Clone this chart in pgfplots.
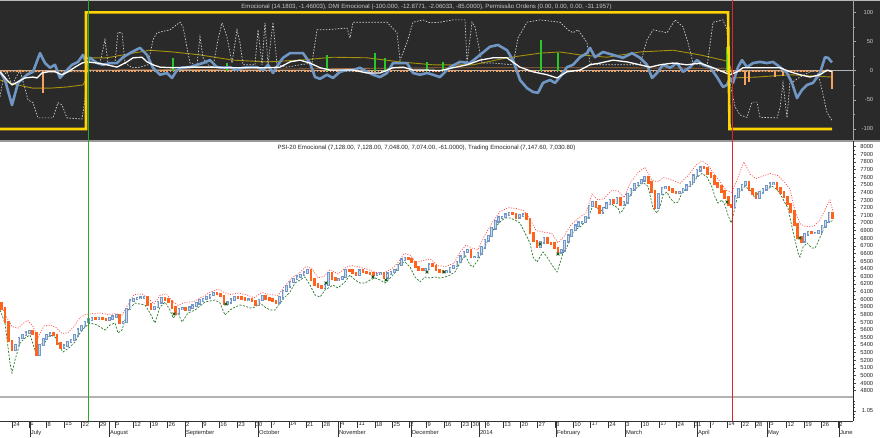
\documentclass[border=0pt]{standalone}
\usepackage{fontspec}
\setmainfont{Liberation Sans}
\usepackage{pgfplots}
\usepackage{pgfplotstable}
\pgfplotsset{compat=1.18}
\pgfplotsset{/pgf/number format/assume math mode=true}
\newcommand\tf{\fontsize{6.1}{7}\selectfont}
\newcommand\tk{\fontsize{5.8}{7}\selectfont}
\definecolor{panelbg}{RGB}{42,42,42}
\definecolor{lbl}{RGB}{200,200,200}
\definecolor{emoblue}{RGB}{112,150,196}
\definecolor{olivel}{RGB}{165,145,10}
\definecolor{brownl}{RGB}{160,105,60}
\definecolor{orangedot}{RGB}{244,164,96}
\definecolor{yell}{RGB}{255,212,0}
\definecolor{dmi}{RGB}{205,205,205}
\definecolor{gbar}{RGB}{40,200,40}
\definecolor{vgreen}{RGB}{40,170,40}
\definecolor{vred}{RGB}{220,40,40}
\definecolor{downc}{RGB}{255,100,30}
\definecolor{upedge}{RGB}{115,152,200}
\definecolor{upfill}{RGB}{205,218,236}
\definecolor{upband}{RGB}{255,70,70}
\definecolor{loband}{RGB}{40,120,40}
\definecolor{xmk}{RGB}{20,90,20}
\pgfplotstableread{
i o c
0 5950 5880
1 5880 5700
2 5700 5450
3 5450 5340
4 5340 5400
5 5400 5490
6 5490 5530
7 5530 5560
8 5560 5580
9 5580 5550
10 5550 5270
11 5270 5400
12 5400 5480
13 5480 5525
14 5525 5550
15 5550 5530
16 5530 5420
17 5420 5370
18 5370 5390
19 5390 5440
20 5440 5465
21 5465 5525
22 5525 5600
23 5600 5650
24 5650 5700
25 5700 5735
26 5735 5750
27 5750 5740
28 5740 5755
29 5755 5740
30 5740 5725
31 5725 5750
32 5750 5770
33 5770 5790
34 5790 5690
35 5690 5700
36 5700 5870
37 5870 5980
38 5980 6005
39 6005 6015
40 6015 6020
41 6020 6030
42 6030 5930
43 5930 5870
44 5870 5900
45 5900 5960
46 5960 6010
47 6010 6000
48 6000 5970
49 5970 5890
50 5890 5815
51 5815 5870
52 5870 5880
53 5880 5860
54 5860 5890
55 5890 5915
56 5915 5945
57 5945 5985
58 5985 6005
59 6005 6025
60 6025 6055
61 6055 6075
62 6075 6070
63 6070 6040
64 6040 5935
65 5935 5960
66 5960 5995
67 5995 6025
68 6025 6020
69 6020 6010
70 6010 5990
71 5990 5995
72 5995 5975
73 5975 5925
74 5925 5990
75 5990 6040
76 6040 6010
77 6010 5995
78 5995 5975
79 5975 5960
80 5960 6025
81 6025 6110
82 6110 6170
83 6170 6225
84 6225 6265
85 6265 6295
86 6295 6320
87 6320 6350
88 6350 6385
89 6385 6260
90 6260 6195
91 6195 6165
92 6165 6150
93 6150 6185
94 6185 6340
95 6340 6270
96 6270 6250
97 6250 6265
98 6265 6290
99 6290 6383
100 6383 6380
101 6380 6345
102 6345 6320
103 6320 6375
104 6375 6355
105 6355 6345
106 6345 6340
107 6340 6325
108 6325 6330
109 6330 6340
110 6340 6285
111 6285 6335
112 6335 6355
113 6355 6385
114 6385 6450
115 6450 6520
116 6520 6540
117 6540 6525
118 6525 6490
119 6490 6420
120 6420 6390
121 6390 6383
122 6383 6395
123 6395 6455
124 6455 6435
125 6435 6385
126 6385 6360
127 6360 6355
128 6355 6365
129 6365 6409
130 6409 6435
131 6435 6490
132 6490 6560
133 6560 6620
134 6620 6645
135 6645 6553
136 6553 6555
137 6555 6600
138 6600 6680
139 6680 6770
140 6770 6830
141 6830 6930
142 6930 7020
143 7020 7070
144 7070 7080
145 7080 7108
146 7108 7126
147 7126 7120
148 7120 7075
149 7075 7100
150 7100 7110
151 7110 7050
152 7050 6870
153 6870 6765
154 6765 6684
155 6684 6745
156 6745 6800
157 6800 6737
158 6737 6730
159 6730 6670
160 6670 6615
161 6615 6640
162 6640 6760
163 6760 6835
164 6835 6905
165 6905 6965
166 6965 7003
167 7003 7012
168 7012 7075
169 7075 7220
170 7220 7270
171 7270 7215
172 7215 7140
173 7140 7196
174 7196 7255
175 7255 7301
176 7301 7265
177 7265 7327
178 7327 7235
179 7235 7270
180 7270 7375
181 7375 7440
182 7440 7505
183 7505 7526
184 7526 7560
185 7560 7597
186 7597 7530
187 7530 7410
188 7410 7196
189 7196 7380
190 7380 7460
191 7460 7468
192 7468 7440
193 7440 7404
194 7404 7395
195 7395 7405
196 7405 7440
197 7440 7490
198 7490 7537
199 7537 7620
200 7620 7690
201 7690 7725
202 7725 7720
203 7720 7645
204 7645 7612
205 7612 7520
206 7520 7475
207 7475 7410
208 7410 7335
209 7335 7235
210 7235 7215
211 7215 7345
212 7345 7440
213 7440 7500
214 7500 7537
215 7537 7440
216 7440 7390
217 7390 7330
218 7330 7400
219 7400 7440
220 7440 7485
221 7485 7515
222 7515 7520
223 7520 7450
224 7450 7400
225 7400 7340
226 7340 7250
227 7250 7150
228 7150 6980
229 6980 6810
230 6810 6760
231 6760 6850
232 6850 6878
233 6878 6868
234 6868 6870
235 6870 6890
236 6890 6955
237 6955 7020
238 7020 7128
239 7128 7074
}\candles
\begin{document}
\begin{tikzpicture}
\useasboundingbox (0pt,0pt) rectangle (880pt,437pt);
\fill[white] (0pt,0pt) rectangle (880pt,437pt);
\fill[panelbg] (0pt,296pt) rectangle (880pt,437pt);
\draw[gray!55, line width=1.2pt] (0pt,436.4pt) -- (880pt,436.4pt);
\draw[gray!80, line width=1.2pt] (0pt,296pt) -- (880pt,296pt);
\draw[gray!60, line width=1.4pt] (0pt,40pt) -- (853pt,40pt);

% ---------------- top panel
\begin{axis}[
  at={(0pt,296pt)}, anchor=south west, scale only axis,
  width=853pt, height=141pt,
  xmin=0, xmax=853, ymin=-120.6, ymax=121.1,
  axis x line=none, axis y line*=right,
  axis line style={draw=gray!70, line width=0.6pt},
  ytick={-100,-50,0,50,100}, minor ytick={-75,-25,25,75},
  ytick align=outside, major tick length=3pt, minor tick length=1.8pt,
  tick style={draw=gray!70, line width=0.5pt},
  yticklabel style={font=\tk, text=lbl, text width=16pt, align=right, anchor=west, inner sep=1pt},
]
\addplot[gray!60, line width=0.6pt, forget plot] coordinates {(0,0) (853,0)};
\addplot[olivel, line width=0.9pt] coordinates {(0,-16) (17,-24.5) (33,-30) (50,-30) (67,-28) (83,-24.5) (86,-15) (89,22) (107,22) (133,30) (150,35) (173,32) (200,27) (233,18) (267,15) (300,18) (333,23) (367,22) (400,15) (433,10) (473,10) (507,22) (540,30) (560,32) (580,27) (607,23) (640,32) (673,35) (700,27) (723,18) (729,15) (733,-12.5) (757,-11) (790,-7) (832,-11)};
\addplot[brownl, line width=0.8pt] coordinates {(0,-2) (86,-2) (88,1) (300,3) (450,5) (600,5) (729,4) (733,-1) (832,-1)};
\addplot[dmi, dash pattern=on 1.5pt off 1.5pt, line width=0.7pt] coordinates {(0,-45) (4,-7) (7,-2) (12,-24.5) (20,1) (28,-50) (33,-55) (38,-81) (53,-81) (58,-55) (62,-59) (67,-81) (82,-83) (85,-50) (87,23) (90,15) (100,13) (105,53) (108,13) (115,13) (118,66) (122,65) (125,13) (132,5) (140,6) (148,10) (153,53) (157,65) (170,70) (180,83) (183,75) (190,13) (197,10) (200,58) (203,22) (208,10) (213,6) (218,53) (222,82) (227,58) (232,13) (237,70) (240,48) (243,10) (255,10) (258,70) (262,10) (265,82) (268,10) (273,83) (277,10) (287,6) (300,10) (312,13) (317,70) (325,70) (347,73) (350,56) (353,83) (367,83) (387,83) (397,65) (400,18) (407,48) (413,83) (423,87) (430,82) (440,83) (453,87) (465,87) (467,13) (472,83) (475,75) (482,13) (493,13) (513,10) (518,56) (527,83) (540,87) (560,83) (568,70) (573,65) (578,70) (587,48) (590,13) (600,10) (640,10) (647,53) (653,70) (667,65) (675,87) (683,75) (688,48) (693,13) (707,6) (713,83) (723,87) (727,70) (730,-21) (735,-62) (740,-76) (747,-80) (752,-54) (757,-54) (760,-80) (777,-81) (780,-64) (783,-21) (787,-81) (790,-19) (793,-19) (800,-11) (810,-2) (817,1) (822,-33) (827,-72) (832,-85)};
\addplot[orangedot, line width=2.4pt, dash pattern=on 1.6pt off 1.6pt] coordinates {(0,-1) (832,-1)};
\addplot[ycomb, gbar, line width=2.4pt, mark=none] coordinates {(173,22) (227,13) (327,27) (375,30) (385,22) (427,15) (443,15) (541,52) (558,30) (727,41)};
\addplot[ycomb, orangedot, line width=2.4pt, mark=none] coordinates {(43,-38) (745,-24) (749,-19) (775,-11) (783,-10) (832,-31)};
\addplot[emoblue, line width=2.6pt, line join=round] coordinates {(0,-1.7) (5,-16) (12,-59) (18,-21) (27,-7) (33,-2) (40,30) (45,13) (50,5) (55,10) (60,-12.5) (67,1) (72,10) (78,15) (83,27) (87,10) (90,22) (97,13) (103,10) (110,13) (117,13) (123,23) (132,32) (140,39) (147,27) (153,5) (160,-7) (167,-4) (172,-12.5) (177,1) (183,5) (190,6) (197,10) (203,13) (210,18) (217,6) (223,5) (230,6) (237,1) (243,5) (250,6) (257,6) (263,1) (268,10) (273,-4) (278,10) (283,22) (290,30) (297,30) (303,30) (310,13) (315,-11) (320,-14) (327,-7) (333,-12.5) (340,-2) (347,1) (353,1) (360,5) (367,-2) (373,-7) (380,-11) (387,-4) (393,13) (400,13) (407,13) (413,-4) (420,-7) (427,-4) (433,-7) (440,-11) (450,6) (460,15) (470,13) (480,27) (490,41) (498,44) (507,35) (513,18) (520,-16) (527,-30) (533,-36.5) (538,-38) (543,-21) (550,-16) (555,-21) (560,-11) (567,6) (573,10) (580,23) (587,30) (590,39) (595,23) (603,32) (613,27) (623,22) (632,30) (640,22) (647,10) (652,-12.5) (657,-4) (663,10) (670,5) (677,13) (683,-2) (690,6) (697,18) (703,10) (710,6) (717,-11) (723,-28) (727,-24.5) (730,-12.5) (733,-21) (738,6) (742,18) (747,6) (753,13) (760,15) (767,13) (773,15) (780,6) (787,-4) (792,-21) (797,-47) (802,-33) (807,-24.5) (813,-21) (820,-4) (825,23) (828,22) (832,14.2)};
\addplot[white, line width=1.3pt, line join=round] coordinates {(0,-2) (7,-16) (12,-24.5) (18,-19) (25,-12.5) (33,-11) (37,-12.5) (42,-4) (48,-2) (55,-2) (62,-7) (68,-2) (75,6) (82,13) (87,15) (97,13) (107,10) (117,6) (127,15) (133,22) (142,23) (147,15) (153,10) (160,6) (173,5) (187,6) (200,6) (213,6) (227,5) (240,5) (253,5) (267,5) (280,6) (290,15) (300,18) (310,13) (320,5) (330,1) (340,1) (353,1) (367,-4) (380,-4) (393,5) (403,6) (413,1) (427,1) (440,0) (453,5) (467,10) (480,18) (493,22) (507,22) (520,6) (533,-2) (547,-7) (557,-12.5) (567,-2) (580,1) (590,10) (600,13) (613,18) (627,15) (640,10) (650,6) (660,10) (673,13) (687,10) (700,13) (713,5) (723,-2) (730,-7) (737,-2) (743,5) (753,5) (767,5) (780,5) (790,-2) (800,-7) (810,-11) (820,-7) (827,1) (832,-1.5)};
\addplot[yell, line width=2.6pt] coordinates {(0,-100) (86,-100) (86,100) (728,100) (729.5,-100) (832,-100)};
\node[font=\tf, text=lbl, anchor=north, yshift=-0.5pt] at (rel axis cs:0.5,1) {Emocional (14.1803, -1.46003), DMI Emocional (-100.000, -12.8771, -2.06033, -85.0000), Permissão Ordens (0.00, 0.00, 0.00, -31.1957)};
\end{axis}

% ---------------- main price panel
\begin{axis}[
  at={(0pt,40pt)}, anchor=south west, scale only axis,
  width=853pt, height=256pt,
  xmin=0, xmax=853, ymin=4717.4, ymax=8074.8,
  axis x line=none, axis y line*=right,
  axis line style={draw=black!85, line width=0.6pt},
  ytick={4800,4900,...,8000}, minor ytick={4850,4950,...,7950},
  ytick align=outside, major tick length=3pt, minor tick length=1.8pt,
  tick style={draw=black!70, line width=0.5pt},
  yticklabel style={font=\tk, text=black!85, text width=16pt, align=right, anchor=west, inner sep=1pt, /pgf/number format/set thousands separator={}},
]
\addplot[upband, line width=0.7pt, dash pattern=on 1pt off 1.5pt] coordinates {(0,5950) (6,5780) (12,5640) (18,5620) (24,5690) (28,5720) (33,5640) (38,5500) (44,5650) (50,5660) (56,5630) (62,5550) (68,5560) (74,5640) (80,5760) (86,5800) (92,5810) (100,5820) (108,5800) (116,5810) (122,5790) (128,5930) (134,6060) (142,6070) (148,6010) (154,5940) (160,6050) (166,6070) (172,5980) (178,5920) (186,5960) (194,5970) (202,6030) (210,6090) (218,6130) (224,6090) (230,6060) (238,6080) (246,6060) (254,6020) (262,6090) (270,6060) (278,6050) (284,6160) (292,6280) (300,6350) (306,6430) (312,6400) (318,6280) (324,6300) (330,6390) (338,6330) (346,6420) (352,6440) (360,6420) (368,6390) (376,6350) (384,6350) (392,6400) (398,6480) (404,6600) (410,6580) (416,6480) (424,6510) (430,6530) (438,6440) (446,6430) (454,6470) (460,6620) (466,6710) (472,6670) (478,6650) (484,6820) (492,7000) (500,7150) (508,7200) (516,7190) (524,7160) (530,7050) (536,6900) (544,6880) (552,6860) (558,6740) (564,6820) (570,6960) (578,7060) (586,7130) (592,7380) (598,7300) (604,7320) (612,7430) (618,7420) (624,7330) (630,7520) (638,7660) (645,7730) (652,7560) (658,7540) (664,7600) (672,7560) (680,7520) (688,7620) (696,7760) (702,7810) (708,7760) (714,7640) (720,7540) (726,7430) (732,7400) (738,7600) (744,7800) (750,7640) (756,7580) (764,7620) (770,7650) (778,7620) (784,7540) (790,7440) (795,7160) (800,6990) (806,6950) (814,6960) (820,7040) (826,7200) (830,7300) (833,7148)};
\addplot[loband, line width=0.7pt, dash pattern=on 2pt off 1.5pt] coordinates {(0,5858) (5,5688) (10,5163) (12,5032) (15,5203) (20,5426) (25,5491) (30,5531) (35,5334) (40,5399) (45,5439) (50,5531) (55,5504) (60,5373) (63,5307) (70,5373) (75,5439) (80,5556) (85,5636) (90,5688) (97,5662) (105,5596) (110,5662) (115,5688) (118,5556) (122,5596) (128,5858) (135,5950) (145,5924) (150,5819) (155,5688) (160,5897) (165,5963) (170,5858) (173,5753) (178,5819) (182,5701) (188,5819) (195,5858) (205,5963) (215,5990) (220,5950) (225,5793) (230,5858) (235,5897) (240,5924) (245,5910) (250,5884) (255,5897) (260,5950) (265,5897) (270,5858) (275,5858) (280,5950) (285,6029) (290,6094) (295,6212) (300,6252) (305,6291) (310,6186) (315,6055) (320,6029) (325,6121) (330,6160) (333,6186) (338,6147) (345,6226) (350,6317) (355,6252) (360,6212) (365,6212) (370,6252) (375,6278) (380,6252) (385,6212) (390,6278) (395,6344) (400,6475) (405,6488) (410,6422) (415,6291) (420,6226) (425,6291) (430,6278) (435,6291) (440,6278) (445,6291) (450,6317) (455,6357) (460,6475) (465,6580) (470,6449) (473,6422) (478,6514) (485,6684) (490,6842) (495,6947) (500,7012) (505,7065) (510,7065) (515,7039) (520,6999) (525,6868) (530,6737) (533,6553) (537,6488) (540,6553) (543,6619) (547,6553) (552,6449) (557,6357) (560,6475) (563,6606) (567,6684) (570,6816) (575,6908) (580,6947) (585,7012) (590,7130) (593,7235) (597,7209) (600,7143) (605,7209) (610,7261) (613,7235) (618,7196) (620,7130) (623,7170) (628,7301) (633,7432) (638,7470) (643,7530) (648,7480) (650,7367) (653,7196) (657,7130) (660,7209) (663,7367) (667,7406) (670,7327) (675,7261) (678,7274) (682,7393) (687,7471) (692,7500) (697,7600) (702,7650) (707,7603) (712,7471) (715,7340) (718,7261) (722,7301) (725,7235) (728,7104) (731,6999) (735,7196) (738,7393) (742,7440) (745,7480) (750,7432) (755,7327) (758,7393) (762,7432) (768,7450) (772,7480) (777,7440) (782,7340) (785,7261) (788,7196) (792,6947) (795,6776) (798,6606) (800,6553) (803,6684) (807,6737) (812,6671) (815,6671) (818,6750) (822,6868) (825,6973) (828,7010) (833,7031)};
% up candles (outline + light fill)
\addplot[draw=none, mark=none, forget plot,
  restrict expr to domain={\thisrow{c}-\thisrow{o}}{0:100000},
  error bars/.cd, y dir=both, y explicit, error mark=none,
  error bar style={draw=upedge, line width=2.6pt, line cap=rect}]
  table[x expr=\thisrow{i}*3.477+1.5, y expr=(\thisrow{o}+\thisrow{c})/2, y error expr=(\thisrow{c}-\thisrow{o})/2] {\candles};
\addplot[draw=none, mark=none, forget plot,
  restrict expr to domain={\thisrow{c}-\thisrow{o}}{0:100000},
  error bars/.cd, y dir=both, y explicit, error mark=none,
  error bar style={draw=upfill, line width=1.0pt, line cap=butt}]
  table[x expr=\thisrow{i}*3.477+1.5, y expr=(\thisrow{o}+\thisrow{c})/2, y error expr=(\thisrow{c}-\thisrow{o})/2] {\candles};
% down candles
\addplot[draw=none, mark=none, forget plot,
  restrict expr to domain={\thisrow{c}-\thisrow{o}}{-100000:-0.5},
  error bars/.cd, y dir=both, y explicit, error mark=none,
  error bar style={draw=downc, line width=2.6pt, line cap=rect}]
  table[x expr=\thisrow{i}*3.477+1.5, y expr=(\thisrow{o}+\thisrow{c})/2, y error expr=(\thisrow{o}-\thisrow{c})/2] {\candles};
\addplot[only marks, mark=x, mark size=2pt, xmk, line width=0.8pt] coordinates {(174,5806) (226,5937) (326,6213) (373,6291) (386,6252) (427,6357) (444,6357) (540,6724) (558,6593) (727,7274) (800,6803)};
\node[font=\tf, text=black!85, anchor=north, yshift=-0.5pt] at (rel axis cs:0.5,1) {PSI-20 Emocional (7,128.00, 7,128.00, 7,048.00, 7,074.00, -61.0000), Trading Emocional (7,147.60, 7,030.80)};
\end{axis}

% ---------------- small lower panel
\begin{axis}[
  at={(0pt,16pt)}, anchor=south west, scale only axis,
  width=853pt, height=24pt,
  xmin=0, xmax=853, ymin=0, ymax=2.52,
  axis x line=none, axis y line*=right,
  axis line style={draw=black!85, line width=0.6pt},
  ytick={1.05}, minor ytick={0.35,0.7,1.4,1.75,2.1},
  ytick align=outside, major tick length=3pt, minor tick length=1.8pt,
  tick style={draw=black!70, line width=0.5pt},
  yticklabel style={font=\tk, text=black!85, text width=16pt, align=right, anchor=west, inner sep=1pt, /pgf/number format/.cd, fixed, fixed zerofill, precision=2},
]
\addplot[draw=none, forget plot] coordinates {(0,0) (853,0)};
\end{axis}

% ---------------- date axis: days
\begin{axis}[
  at={(0pt,0pt)}, anchor=south west, scale only axis,
  width=853pt, height=16pt,
  xmin=0, xmax=853, ymin=0, ymax=1,
  axis x line*=top, axis y line=none,
  axis line style={draw=black!80, line width=0.8pt},
  xtick align=inside, major tick length=7pt,
  tick style={draw=black!80, line width=0.6pt},
  xtick={12.3,29.3,46.7,64.3,81.7,99,115,133.3,150.7,167.7,185,202.3,219.3,237.3,255,271.7,289,306,322.7,340,357.7,375,392.7,409.3,426.7,444,461.7,471.7,485.7,503.3,520.7,537.7,555,573.3,590.7,608.3,625,641.7,659.3,676.7,694,710.7,727.3,741.7,755,769.3,786.7,804.3,821.7,838.3},
  xticklabels={24,1,8,15,22,29,5,12,19,26,2,9,16,23,30,7,14,21,28,4,11,18,25,2,9,16,23,30,6,13,20,27,3,10,17,24,3,10,17,24,31,7,14,22,28,5,12,19,26,2},
  xticklabel style={font=\tk, text=black!85, anchor=north west, inner sep=0.8pt},
]
\addplot[draw=none, forget plot] coordinates {(0,0) (853,0)};
\end{axis}

% ---------------- date axis: months
\begin{axis}[
  at={(0pt,0pt)}, anchor=south west, scale only axis,
  width=853pt, height=16pt,
  xmin=0, xmax=853, ymin=0, ymax=1,
  axis x line*=top, axis y line=none,
  axis line style={draw=black!80, line width=0.8pt},
  xtick align=inside, major tick length=16pt,
  tick style={draw=black!80, line width=0.6pt},
  xtick={30,109,185,258,338,411,479,556,625,697,767,839},
  xticklabels={July,August,September,October,November,December,2014,February,March,April,May,June},
  xticklabel style={font=\tk, text=black!85, anchor=north west, inner sep=0.8pt, yshift=-8.5pt},
]
\addplot[draw=none, forget plot] coordinates {(0,0) (853,0)};
\end{axis}

% ---------------- vertical event lines
\begin{axis}[
  at={(0pt,16pt)}, anchor=south west, scale only axis,
  width=853pt, height=421pt,
  xmin=0, xmax=853, ymin=0, ymax=1,
  axis lines=none,
]
\addplot[vgreen, line width=1pt] coordinates {(88,0) (88,1)};
\addplot[vred, line width=1pt] coordinates {(732,0) (732,1)};
\end{axis}
\end{tikzpicture}
\end{document}
